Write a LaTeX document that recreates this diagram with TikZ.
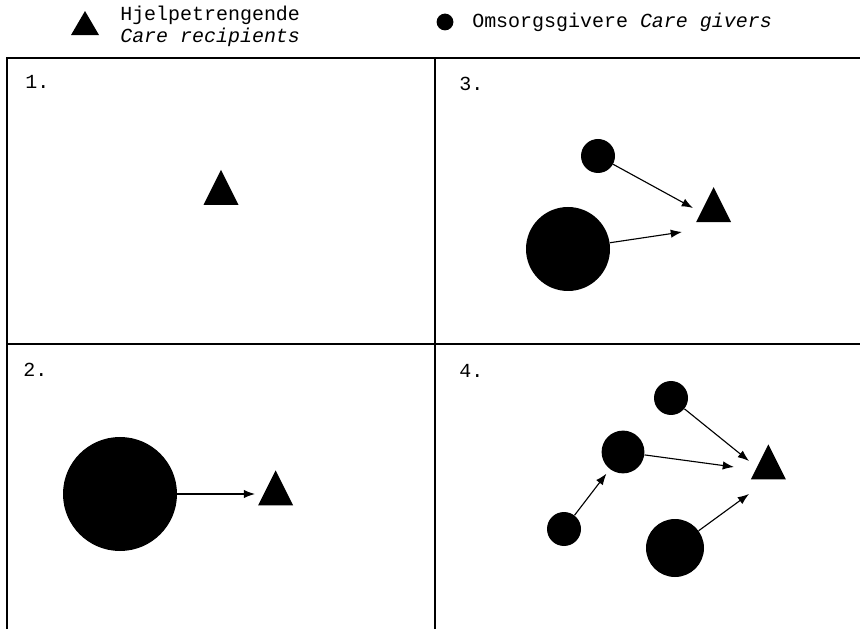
\documentclass[tikz,border=0pt]{standalone}
\usepackage{fontspec}
\setmonofont{Liberation Mono}
\usetikzlibrary{shapes,arrows.meta,positioning}

\begin{document}
\begin{tikzpicture}[
  font=\fontsize{14.2pt}{15.6pt}\selectfont\ttfamily,
  giver/.style={circle, fill=black, inner sep=0pt},
  recip/.style={isosceles triangle, isosceles triangle apex angle=53, isosceles triangle stretches, shape border rotate=90, fill=black, inner sep=0pt, minimum width=0.875cm, minimum height=0.875cm},
  frame/.style={line width=1.3pt},
  link/.style={-{Latex[length=8pt,width=6pt]}, line width=0.8pt},
  num/.style={anchor=base west, inner sep=0pt}
]
\useasboundingbox (0,0) rectangle (21.5,15.725);

% Legend
\node[recip, minimum width=0.7cm, minimum height=0.6cm] (lrecip) at (2.125,15.05) {};
\node[anchor=north west, inner sep=0pt, align=left] (lrtext) at (3.0,15.575) {Hjelpetrengende\\\textit{Care recipients}};
\node[giver, minimum size=0.42cm] (lgiver) at (11.125,15.175) {};
\node[anchor=base west, inner sep=0pt] (lgtext) at (11.8,15.025) {Omsorgsgivere \textit{Care givers}};

% Frame
\draw[frame] (0.175,0) -- (0.175,14.275) -- (21.5,14.275);
\draw[frame] (10.875,0) -- (10.875,14.275);
\draw[frame] (0.175,7.125) -- (21.5,7.125);

% Panel numbers
\node[num] (n1) at (0.625,13.5) {1.};
\node[num] (n3) at (11.475,13.45) {3.};
\node[num] (n2) at (0.575,6.3) {2.};
\node[num] (n4) at (11.475,6.275) {4.};

% 1.
\node[recip] (t1) at (5.525,10.875) {};

% 2.
\node[giver, minimum size=2.85cm] (g2) at (3.0,3.375) {};
\node[recip] (t2) at (6.89,3.36) {};
\coordinate (e2) at (6.375,3.375);
\draw[link] (g2) -- (e2);

% 3.
\node[giver, minimum size=0.85cm] (g3a) at (14.95,11.825) {};
\node[giver, minimum size=2.1cm] (g3b) at (14.2,9.5) {};
\node[recip] (t3) at (17.84,10.44) {};
\coordinate (e3a) at (17.325,10.525);
\coordinate (e3b) at (17.05,9.925);
\draw[link] (g3a) -- (e3a);
\draw[link] (g3b) -- (e3b);

% 4.
\node[giver, minimum size=0.85cm] (g4a) at (16.775,5.775) {};
\node[giver, minimum size=1.07cm] (g4b) at (15.575,4.425) {};
\node[giver, minimum size=0.85cm] (g4c) at (14.1,2.5) {};
\node[giver, minimum size=1.45cm] (g4d) at (16.875,2.025) {};
\node[recip] (t4) at (19.21,4.01) {};
\coordinate (e4a) at (18.725,4.2);
\coordinate (e4b) at (18.35,4.05);
\coordinate (e4d) at (18.725,3.375);
\draw[link] (g4a) -- (e4a);
\draw[link] (g4b) -- (e4b);
\draw[link, shorten >=4pt] (g4c) -- (g4b);
\draw[link] (g4d) -- (e4d);
\end{tikzpicture}
\end{document}
